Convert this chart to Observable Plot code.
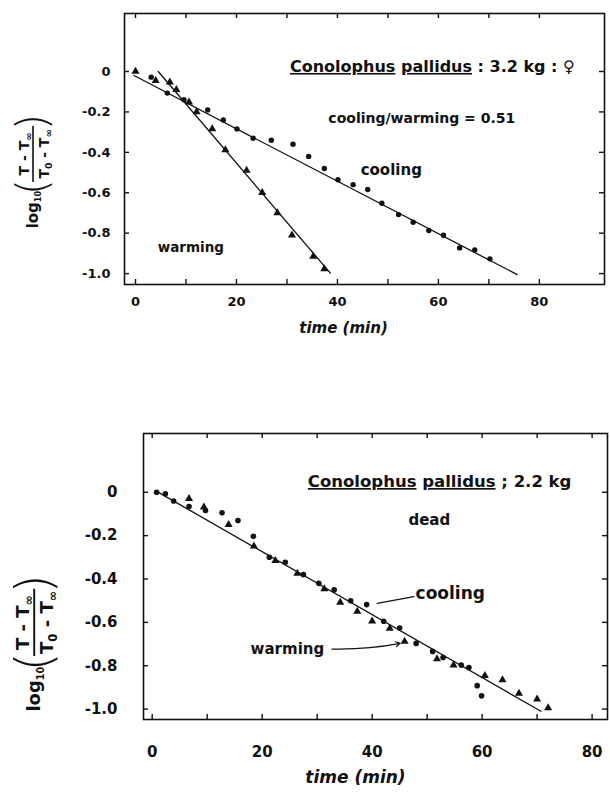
<!DOCTYPE html>
<html><head><meta charset="utf-8">
<script src="https://cdn.jsdelivr.net/npm/d3@7"></script>
<script src="https://cdn.jsdelivr.net/npm/@observablehq/plot@0.6"></script>
<style>
body{margin:0;background:#fff;}
#top,#bot{display:block;line-height:0;}
svg{display:block;}
</style></head><body>
<div id="top"></div><div id="bot"></div>
<script>
// ---- tick values ----
const xTicks = [0,10,20,30,40,50,60,70,80];
const xLabels = [0,20,40,60,80];
const yTicks = [0,-0.2,-0.4,-0.6,-0.8,-1.0];

// ---- top chart: live animal, 3.2 kg female ----
const topCoolingTime = [3.1,6.3,9.6,14.3,17.4,20.1,23.3,26.9,31.2,34.3,37.4,40.1,43.1,46,48.8,52.1,55,58.1,61,64.2,67.2,70.2];
const topCoolingLog  = [-0.028,-0.107,-0.14,-0.19,-0.24,-0.284,-0.33,-0.34,-0.36,-0.42,-0.48,-0.536,-0.56,-0.584,-0.652,-0.708,-0.746,-0.787,-0.81,-0.873,-0.883,-0.927];
const topWarmingTime = [0,4,6.8,8.1,10.6,12.1,15.2,17.8,22,25.1,28.1,31,35.2,37.4];
const topWarmingLog  = [0,-0.045,-0.053,-0.09,-0.152,-0.2,-0.284,-0.388,-0.49,-0.60,-0.70,-0.81,-0.915,-0.977];
const topCoolingFitTime = [-0.3,75.6];
const topCoolingFitLog  = [-0.02,-1.005];
const topWarmingFitTime = [4.5,38.6];
const topWarmingFitLog  = [0.0,-0.998];

// ---- bottom chart: dead animal, 2.2 kg ----
const botCoolingTime = [0.8,2.4,3.9,6.7,9.7,12.7,15.6,18.4,21.3,24.2,27.5,30.3,33.1,36.1,39,42.1,45,48,51,52.9,56.2,57.6,59.1,59.9];
const botCoolingLog  = [0,-0.007,-0.04,-0.066,-0.084,-0.095,-0.13,-0.203,-0.30,-0.323,-0.38,-0.42,-0.45,-0.5,-0.518,-0.595,-0.626,-0.697,-0.734,-0.762,-0.797,-0.808,-0.892,-0.939];
const botWarmingTime = [6.7,9.4,13.9,18.5,22.4,26.4,31.3,34.2,37.3,40,43.2,45.9,51.8,54.8,60.5,63.7,66.7,70,72];
const botWarmingLog  = [-0.03,-0.069,-0.15,-0.249,-0.315,-0.374,-0.446,-0.508,-0.55,-0.595,-0.628,-0.688,-0.769,-0.797,-0.846,-0.866,-0.928,-0.954,-0.995];
const botFitTime = [0.9,70.7];
const botFitLog  = [0.003,-1.01];

const pts = (t, v) => t.map((d, i) => ({t: d, v: v[i]}));
const FONT = "DejaVu Sans";
const fmtY = d => d === 0 ? "0" : d.toFixed(1);

function chart(cfg) {
  const innerW = cfg.width - cfg.ml - cfg.mr;
  const innerH = cfg.height - cfg.mt - cfg.mb;
  const tk = 5;
  const marks = [
    Plot.frame({stroke: "#111", strokeWidth: 1.6}),
    // inward ticks on all four sides
    Plot.tickX(xTicks, {x: d => d, insetTop: innerH - tk, strokeWidth: 1.4}),
    Plot.tickX(xTicks, {x: d => d, insetBottom: innerH - tk, strokeWidth: 1.4}),
    Plot.tickY(yTicks, {y: d => d, insetRight: innerW - tk, strokeWidth: 1.4}),
    Plot.tickY(yTicks, {y: d => d, insetLeft: innerW - tk, strokeWidth: 1.4}),
    Plot.axisX({ticks: xLabels, tickSize: 0, tickPadding: cfg.xPad, tickFormat: d => String(d),
      fontSize: cfg.tickFs, fontWeight: "bold", label: null}),
    Plot.axisY({ticks: yTicks, tickSize: 0, tickPadding: cfg.yPad, tickFormat: fmtY,
      fontSize: cfg.tickFs, fontWeight: "bold", label: null}),
    Plot.text(["time (min)"], {frameAnchor: "bottom", dy: cfg.tlDy, dx: cfg.tlDx,
      fontSize: cfg.tlFs, fontStyle: "italic", fontWeight: "bold"}),
    ...cfg.marks
  ];
  return Plot.plot({
    width: cfg.width, height: cfg.height,
    marginLeft: cfg.ml, marginRight: cfg.mr, marginTop: cfg.mt, marginBottom: cfg.mb,
    x: {domain: cfg.xd, axis: null},
    y: {domain: cfg.yd, axis: null},
    style: {fontFamily: FONT, color: "#111", background: "#fff"},
    marks
  });
}

function yLabel(svg, cx, cy, s, fs) {
  const g = d3.select(svg).append("g")
    .attr("transform", `translate(${cx},${cy}) rotate(-90) scale(${s})`)
    .attr("font-family", FONT).attr("fill", "#111");
  const lg = g.append("text").attr("x", -14).attr("y", 6).attr("text-anchor", "end")
    .attr("font-size", 15).attr("font-weight", "bold");
  lg.append("tspan").text("log");
  lg.append("tspan").attr("font-size", 8).attr("dy", 3).text("10");
  g.append("text").attr("x", -10).attr("y", 15).attr("text-anchor", "middle")
    .attr("font-size", 42).attr("font-weight", "200").text("(");
  g.append("text").attr("x", 55).attr("y", 15).attr("text-anchor", "middle")
    .attr("font-size", 42).attr("font-weight", "200").text(")");
  g.append("line").attr("x1", -5).attr("x2", 51).attr("y1", 1).attr("y2", 1)
    .attr("stroke", "#111").attr("stroke-width", 1.6);
  const num = g.append("text").attr("x", 23).attr("y", -3).attr("text-anchor", "middle")
    .attr("font-size", fs).attr("font-weight", "bold");
  num.append("tspan").text("T - T");
  num.append("tspan").attr("font-size", fs * 0.7).attr("dy", 3).text("∞");
  const den = g.append("text").attr("x", 23).attr("y", 17).attr("text-anchor", "middle")
    .attr("font-size", fs).attr("font-weight", "bold");
  den.append("tspan").text("T");
  den.append("tspan").attr("font-size", fs * 0.65).attr("dy", 3).text("0");
  den.append("tspan").attr("dy", -3).text(" - T");
  den.append("tspan").attr("font-size", fs * 0.7).attr("dy", 3).text("∞");
}

function title(svg, x, y, fs, rest) {
  const sx = svg.scale("x"), sy = svg.scale("y");
  const t = d3.select(svg).append("text")
    .attr("x", sx.apply(x)).attr("y", sy.apply(y))
    .attr("text-anchor", "start")
    .attr("font-family", FONT).attr("font-size", fs).attr("font-weight", "bold")
    .attr("dominant-baseline", "middle").attr("fill", "#111");
  t.append("tspan").attr("text-decoration", "underline").text("Conolophus");
  t.append("tspan").text(" ");
  t.append("tspan").attr("text-decoration", "underline").text("pallidus");
  t.append("tspan").text(rest);
}

// ---------- top ----------
const topSvg = chart({
  width: 610, height: 400, ml: 124, mr: 6, mt: 13, mb: 116,
  xd: [-2.18, 92.9], yd: [-1.054, 0.287],
  xPad: 12, yPad: 14, tickFs: 13, tlDy: 48, tlDx: -21, tlFs: 15,
  marks: [
    Plot.line(pts(topCoolingFitTime, topCoolingFitLog), {x: "t", y: "v", stroke: "#111", strokeWidth: 1.3}),
    Plot.line(pts(topWarmingFitTime, topWarmingFitLog), {x: "t", y: "v", stroke: "#111", strokeWidth: 1.3}),
    Plot.dot(pts(topCoolingTime, topCoolingLog), {x: "t", y: "v", r: 2.7, fill: "#111", stroke: null}),
    Plot.dot(pts(topWarmingTime, topWarmingLog), {x: "t", y: "v", r: 3, symbol: "triangle", fill: "#111", stroke: null}),
    Plot.text(["cooling/warming = 0.51"], {x: 38.2, y: -0.233, textAnchor: "start", fontSize: 14, fontWeight: "bold"}),
    Plot.text(["cooling"], {x: 44.6, y: -0.49, textAnchor: "start", fontSize: 15, fontWeight: "bold"}),
    Plot.text(["warming"], {x: 4.4, y: -0.871, textAnchor: "start", fontSize: 13.5, fontWeight: "bold"})
  ]
});
title(topSvg, 30.7, 0.02, 16, " : 3.2 kg : ♀");
yLabel(topSvg, 32, 177, 1, 14);
document.getElementById("top").appendChild(topSvg);

// ---------- bottom ----------
const botSvg = chart({
  width: 610, height: 395, ml: 143, mr: 3, mt: 33, mb: 76,
  xd: [-1.58, 82.8], yd: [-1.048, 0.271],
  xPad: 27, yPad: 26, tickFs: 15, tlDy: 63, tlDx: -20, tlFs: 17,
  marks: [
    Plot.line(pts(botFitTime, botFitLog), {x: "t", y: "v", stroke: "#111", strokeWidth: 1.3}),
    Plot.dot(pts(botCoolingTime, botCoolingLog), {x: "t", y: "v", r: 2.8, fill: "#111", stroke: null}),
    Plot.dot(pts(botWarmingTime, botWarmingLog), {x: "t", y: "v", r: 3, symbol: "triangle", fill: "#111", stroke: null}),
    Plot.text(["dead"], {x: 46.6, y: -0.131, textAnchor: "start", fontSize: 15, fontWeight: "bold"}),
    Plot.text(["cooling"], {x: 47.9, y: -0.468, textAnchor: "start", fontSize: 17, fontWeight: "bold"}),
    Plot.text(["warming"], {x: 17.9, y: -0.722, textAnchor: "start", fontSize: 15, fontWeight: "bold"}),
    Plot.line(pts([40.9, 47.6], [-0.512, -0.481]), {x: "t", y: "v", stroke: "#111", strokeWidth: 1.3}),
    Plot.arrow([0], {x1: 32.7, y1: -0.723, x2: 45.1, y2: -0.697, bend: -6, headLength: 6, stroke: "#111", strokeWidth: 1.2})
  ]
});
title(botSvg, 28.4, 0.045, 16.5, " ; 2.2 kg");
yLabel(botSvg, 33, 250, 1.2, 15);
document.getElementById("bot").appendChild(botSvg);
</script>
</body></html>
